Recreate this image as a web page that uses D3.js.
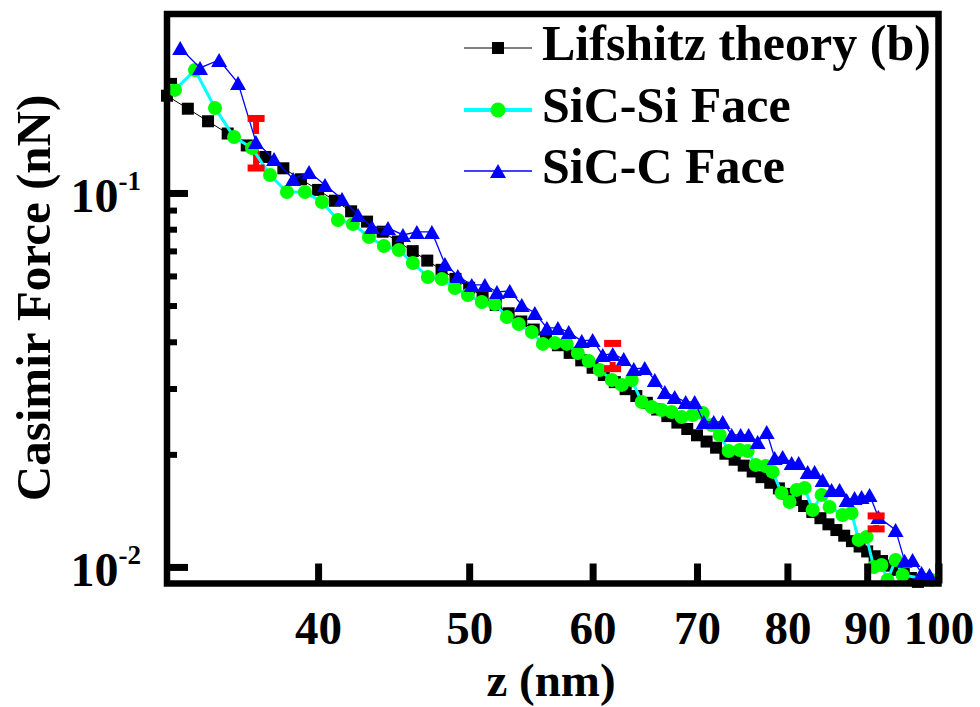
<!DOCTYPE html>
<html><head><meta charset="utf-8">
<script src="https://cdn.jsdelivr.net/npm/d3@7"></script>
<style>
body{margin:0;background:#fff}
svg{display:block}
text{font-family:"Liberation Serif","Times New Roman",serif;font-weight:bold;fill:#000}
</style>
</head><body>
<svg id="chart" width="980" height="707"></svg>
<script>
// ---- data (z in nm, force in nN) ----
const theoryZ = [32,33,34,35,36,37,38,39,40,41,42,43,44,45,46,47,48,49,50,51,52,53,54,55,56,57,58,59,60,61,62,63,64,65,66,67,68,69,70,71,72,73,74,75,76,77,78,79,80,81,82,83,84,85,86,87,88,89,90,91,92,93,94,95,96,97];
const theoryF = [0.1820,0.1680,0.1555,0.1442,0.1340,0.1248,0.1164,0.1088,0.1019,0.09533,0.08932,0.08383,0.07878,0.07417,0.06989,0.06594,0.06229,0.05892,0.05579,0.05289,0.05018,0.04767,0.04532,0.04313,0.04108,0.03916,0.03736,0.03568,0.03409,0.03260,0.03120,0.02988,0.02864,0.02747,0.02636,0.02531,0.02432,0.02338,0.02249,0.02164,0.02084,0.02008,0.01935,0.01866,0.01800,0.01738,0.01679,0.01622,0.01568,0.01510,0.01455,0.01402,0.01350,0.01300,0.01255,0.01212,0.01172,0.01134,0.01100,0.01068,0.01037,0.01008,0.00982,0.00957,0.00934,0.00912];

const siZ = [32.38,33.35,34.35,35.33,36.28,37.26,38.20,39.23,40.23,41.19,42.11,43.12,44.08,45.07,46.01,47.04,48.02,48.95,49.90,50.94,51.93,52.86,53.80,54.85,55.75,56.74,57.75,58.70,59.65,60.63,61.72,62.64,63.57,64.51,65.47,66.45,67.43,68.43,69.55,70.59,71.54,72.39,73.35,74.55,75.44,76.34,77.47,78.28,79.31,80.26,81.10,82.06,83.04,84.15,85.14,86.79,87.95,88.87,89.92,90.87,91.93,92.75,93.86,94.83,98.97];
const siF = [0.1886,0.2132,0.1688,0.1411,0.1319,0.1117,0.1006,0.1006,0.09461,0.08470,0.08262,0.07628,0.07216,0.07041,0.06497,0.05962,0.05890,0.05572,0.05337,0.05112,0.05049,0.04660,0.04464,0.04249,0.03948,0.03972,0.03948,0.03734,0.03554,0.03363,0.03162,0.03067,0.03162,0.02762,0.02678,0.02629,0.02597,0.02518,0.02549,0.02580,0.02397,0.02254,0.02042,0.02055,0.02042,0.01874,0.01862,0.01795,0.01577,0.01492,0.01607,0.01627,0.01420,0.01558,0.01447,0.01377,0.01394,0.01181,0.01203,0.01000,0.01012,0.009231,0.01044,0.009519,0.009231];

const cZ = [32.63,33.60,34.56,35.54,36.49,37.48,38.55,39.47,40.41,41.44,42.43,43.31,44.35,45.34,46.28,47.32,48.24,49.17,50.19,51.17,52.09,53.09,54.04,55.09,56.08,57.0,57.92,59.04,60.0,60.90,61.81,62.82,63.76,64.80,65.77,66.75,67.73,68.84,69.76,70.70,71.75,72.71,73.68,74.66,75.55,76.56,77.59,78.51,79.44,80.50,81.34,82.43,83.28,84.27,85.39,86.41,87.31,88.34,89.26,90.32,91.5,93.86,95.11,96.24,97.53,98.68];
const cF = [0.2442,0.2159,0.2268,0.1968,0.1369,0.1233,0.1090,0.1138,0.1051,0.09638,0.08735,0.08111,0.08061,0.07722,0.07865,0.07865,0.06458,0.05999,0.05675,0.05675,0.05436,0.05470,0.05018,0.04777,0.04355,0.04355,0.04249,0.04020,0.04046,0.03688,0.03711,0.03598,0.03384,0.03404,0.03162,0.02937,0.02848,0.02762,0.02762,0.02442,0.02442,0.02442,0.02254,0.02254,0.02254,0.02159,0.02296,0.01956,0.01968,0.01897,0.01897,0.01795,0.01795,0.01708,0.01607,0.01607,0.01510,0.01529,0.01539,0.01558,0.0136,0.01256,0.01038,0.01044,0.009638,0.009519];

const errZ  = [36.5, 61.8, 91.2];
const errF  = [0.1369, 0.03711, 0.0136];
const errLo = [0.1166, 0.0339, 0.01264];
const errHi = [0.1582, 0.0396, 0.01369];

const xTicks = [40,50,60,70,80,90,100];
const yMajor = [0.01, 0.1];
const yMajorExp = ["-2", "-1"];
const yMinor = [0.02,0.03,0.04,0.05,0.06,0.07,0.08,0.09,0.2];

const seriesNames = ["Lifshitz theory (b)", "SiC-Si Face", "SiC-C Face"];

// ---- scales ----
const L = 167, R = 938.5, T = 14, B = 583.5;
const x = d3.scaleLog().domain([32, 100]).range([L, R]);
const y = d3.scaleLog().domain([0.00903, 0.301]).range([B, T]);

const svg = d3.select("#chart");
const zip = (a, b) => a.map((v, i) => [v, b[i]]);
const line = d3.line().x(d => x(d[0])).y(d => y(d[1]));

const theory = zip(theoryZ, theoryF), si = zip(siZ, siF), cf = zip(cZ, cF);

const tri = "M0,-7L8,7L-8,7Z";

// theory
svg.append("path").attr("d", line(theory)).attr("fill", "none").attr("stroke", "#000").attr("stroke-width", 1);
svg.append("g").selectAll("rect").data(theory).join("rect")
  .attr("x", d => x(d[0]) - 6).attr("y", d => y(d[1]) - 6).attr("width", 12).attr("height", 12).attr("fill", "#000");

// error bar stems (under markers, with gap to symbol)
const eb = errZ.map((z, i) => ({z, f: errF[i], lo: errLo[i], hi: errHi[i]}));
const stems = svg.append("g");
eb.forEach(d => {
  const yc = y(d.f), yh = y(d.hi), yl = y(d.lo);
  if (yc - 8 > yh) stems.append("line").attr("x1", x(d.z)).attr("x2", x(d.z)).attr("y1", yh).attr("y2", yc - 8).attr("stroke", "#ff0000").attr("stroke-width", 6);
  if (yl > yc + 8) stems.append("line").attr("x1", x(d.z)).attr("x2", x(d.z)).attr("y1", yc + 8).attr("y2", yl).attr("stroke", "#ff0000").attr("stroke-width", 6);
});

// SiC-Si
svg.append("path").attr("d", line(si)).attr("fill", "none").attr("stroke", "#00ffff").attr("stroke-width", 3);
svg.append("g").selectAll("circle").data(si).join("circle")
  .attr("cx", d => x(d[0])).attr("cy", d => y(d[1])).attr("r", 7).attr("fill", "#00ff00");

// SiC-C
svg.append("path").attr("d", line(cf)).attr("fill", "none").attr("stroke", "#0000ff").attr("stroke-width", 1.3);
svg.append("g").selectAll("path").data(cf).join("path")
  .attr("d", tri).attr("transform", d => `translate(${x(d[0])},${y(d[1])})`).attr("fill", "#0000ff");

// error bar caps
svg.append("g").selectAll("rect").data(eb.flatMap(d => [[d.z, d.hi], [d.z, d.lo]])).join("rect")
  .attr("x", d => x(d[0]) - 8.5).attr("y", d => y(d[1]) - 3.5).attr("width", 17).attr("height", 7).attr("fill", "#ff0000");

// ---- axes (ticks inward) ----
const gx = svg.append("g").attr("transform", `translate(0,${B})`)
  .call(d3.axisBottom(x).tickValues(xTicks).tickSize(-20).tickFormat(d3.format("d")));
gx.select(".domain").remove();
gx.selectAll(".tick line").attr("stroke", "#000").attr("stroke-width", 7);
gx.selectAll(".tick text").attr("y", 60).attr("dy", 0).attr("font-size", 47)
  .attr("font-family", "Liberation Serif, Times New Roman, serif").attr("font-weight", "bold").attr("fill", "#000");

const gyMinor = svg.append("g").attr("transform", `translate(${L},0)`)
  .call(d3.axisLeft(y).tickValues(yMinor).tickSize(-10).tickFormat(""));
gyMinor.select(".domain").remove();
gyMinor.selectAll(".tick line").attr("stroke", "#000").attr("stroke-width", 6);

const gy = svg.append("g").attr("transform", `translate(${L},0)`)
  .call(d3.axisLeft(y).tickValues(yMajor).tickSize(-21).tickFormat(""));
gy.select(".domain").remove();
gy.selectAll(".tick line").attr("stroke", "#000").attr("stroke-width", 7);

yMajor.forEach((v, i) => {
  const t = svg.append("text").attr("x", 141).attr("y", y(v) + 19).attr("text-anchor", "end").attr("font-size", 48);
  t.append("tspan").text("10");
  t.append("tspan").attr("font-size", 27).attr("dy", -22).text(yMajorExp[i]);
});

// frame
svg.append("rect").attr("x", L).attr("y", T).attr("width", R - L).attr("height", B - T)
  .attr("fill", "none").attr("stroke", "#000").attr("stroke-width", 6.5);

// axis titles
svg.append("text").attr("x", 551).attr("y", 696).attr("text-anchor", "middle").attr("font-size", 47).text("z (nm)");
svg.append("text").attr("transform", "translate(50,298) rotate(-90)").attr("text-anchor", "middle").attr("font-size", 49).text("Casimir Force (nN)");

// legend
const legY = [48, 110, 171];
const lg = svg.append("g");
lg.append("line").attr("x1", 464).attr("x2", 532).attr("y1", legY[0]).attr("y2", legY[0]).attr("stroke", "#000").attr("stroke-width", 1);
lg.append("rect").attr("x", 498 - 6).attr("y", legY[0] - 6).attr("width", 12).attr("height", 12).attr("fill", "#000");
lg.append("line").attr("x1", 464).attr("x2", 532).attr("y1", legY[1]).attr("y2", legY[1]).attr("stroke", "#00ffff").attr("stroke-width", 4);
lg.append("circle").attr("cx", 498).attr("cy", legY[1]).attr("r", 7.5).attr("fill", "#00ff00");
lg.append("line").attr("x1", 464).attr("x2", 532).attr("y1", legY[2]).attr("y2", legY[2]).attr("stroke", "#0000ff").attr("stroke-width", 1.5);
lg.append("path").attr("d", tri).attr("transform", `translate(498,${legY[2]})`).attr("fill", "#0000ff");
seriesNames.forEach((n, i) => {
  lg.append("text").attr("x", 542).attr("y", legY[i] + 12).attr("font-size", 50).text(n);
});
</script>
</body></html>
